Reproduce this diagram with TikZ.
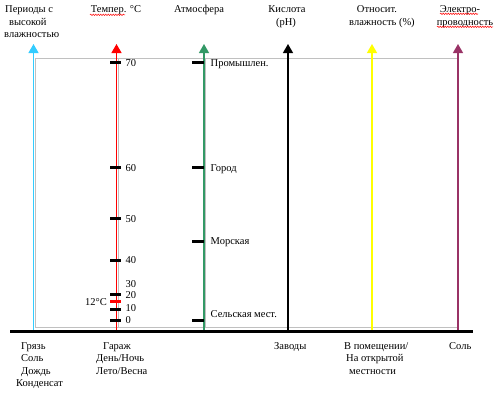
\documentclass[tikz,border=0pt]{standalone}
\usepackage{fontspec}
\setmainfont{Liberation Serif}
\usetikzlibrary{arrows.meta,decorations.pathmorphing}
\definecolor{ccyan}{HTML}{33CCFF}
\definecolor{cgreen}{HTML}{339966}
\definecolor{cpurple}{HTML}{993366}
\definecolor{cyellow}{HTML}{FFFF00}
\definecolor{cgray}{HTML}{C0C0C0}
\begin{document}
\begin{tikzpicture}[x=1pt,y=-1pt,
  txt/.style={inner sep=0pt,font=\fontsize{10.5}{12.5}\selectfont},
  lt/.style={txt,anchor=base west},
  ct/.style={txt,anchor=base},
  axis/.style={line width=1.3pt,-{Triangle[width=10pt,length=9pt]}},
  tick/.style={line width=3pt},
  grid/.style={cgray,line width=1pt},
  squig/.style={red,line width=0.5pt,decorate,decoration={snake,segment length=2.5pt,amplitude=0.7pt}}]
\useasboundingbox (0,0) rectangle (499,394);
% column coordinates
\coordinate (cB) at (33.5,331); \coordinate (cT) at (33.5,44);
\coordinate (rB) at (116.5,331); \coordinate (rT) at (116.5,44);
\coordinate (gB) at (204,331); \coordinate (gT) at (204,44);
\coordinate (kB) at (288,331); \coordinate (kT) at (288,44);
\coordinate (yB) at (372,331); \coordinate (yT) at (372,44);
\coordinate (pB) at (458,331); \coordinate (pT) at (458,44);
% gray frame
\draw[grid] (35,58) rectangle (457,327);
\draw[grid] (118.5,58) -- (118.5,327);
\draw[grid] (205.5,58) -- (205.5,327);
% axes
\draw[axis,ccyan] (cB) -- (cT);
\draw[axis,red] (rB) -- (rT);
\draw[axis,cgreen] (gB) -- (gT);
\draw[axis,black] (kB) -- (kT);
\draw[axis,cyellow] (yB) -- (yT);
\draw[axis,cpurple] (pB) -- (pT);
% baseline
\coordinate (bl) at (10,331.5); \coordinate (br) at (473,331.5);
\draw[line width=3pt] (bl) -- (br);
% temperature ticks
\foreach \yy in {62.7,167.5,218.3,260,294.5,309,320}
  \draw[tick] (110,\yy) -- (121,\yy);
\draw[tick,red] (110,301.5) -- (121,301.5);
\node[lt] (t70) at (125.5,66.5) {70};
\node[lt] (t60) at (125.5,171.3) {60};
\node[lt] (t50) at (125.5,222) {50};
\node[lt] (t40) at (125.5,263.8) {40};
\node[lt] (t30) at (125.5,287.8) {30};
\node[lt] (t20) at (125.5,298.8) {20};
\node[lt] (t10) at (125.5,311.5) {10};
\node[lt] (t0) at (125.5,323.8) {0};
\node[txt,anchor=base east] (t12) at (107,305.8) {12°C};
% atmosphere ticks
\foreach \yy in {62.7,167.5,241,320}
  \draw[tick] (192,\yy) -- (204,\yy);
\node[lt] (a1) at (210.5,66.8) {Промышлен.};
\node[lt] (a2) at (210.5,171.5) {Город};
\node[lt] (a3) at (210.5,244.8) {Морская};
\node[lt] (a4) at (210.5,317.8) {Сельская мест.};
% top labels
\node[lt] (h1a) at (5,12.5) {Периоды с};
\node[lt] (h1b) at (9,25) {высокой};
\node[lt] (h1c) at (4,37.5) {влажностью};
\node[ct] (h2) at (116,12.5) {Темпер. °C};
\node[ct] (h3) at (199,12.5) {Атмосфера};
\node[ct] (h4a) at (287,12.5) {Кислота};
\node[ct] (h4b) at (286,25) {(pH)};
\node[ct] (h5a) at (377,12.5) {Относит.};
\node[ct] (h5b) at (382,25) {влажность (\%)};
\node[ct] (h6a) at (460,12.5) {Электро-};
\node[ct] (h6b) at (465,25) {проводность};
\draw[squig] (90,14.8) -- (125,14.8);
\draw[squig] (440,13.8) -- (478,13.8);
\draw[squig] (437,26.8) -- (493,26.8);
% bottom labels
\node[lt] (b1a) at (21,349) {Грязь};
\node[lt] (b1b) at (21,361.5) {Соль};
\node[lt] (b1c) at (21,374) {Дождь};
\node[lt] (b1d) at (16,386.5) {Конденсат};
\node[lt] (b2a) at (103,349) {Гараж};
\node[lt] (b2b) at (96,361.5) {День/Ночь};
\node[lt] (b2c) at (96,374) {Лето/Весна};
\node[lt] (b4) at (274,349) {Заводы};
\node[lt] (b5a) at (344,349) {В помещении/};
\node[lt] (b5b) at (346,361.5) {На открытой};
\node[lt] (b5c) at (349,374) {местности};
\node[lt] (b6) at (449,349) {Соль};
\end{tikzpicture}
\end{document}
